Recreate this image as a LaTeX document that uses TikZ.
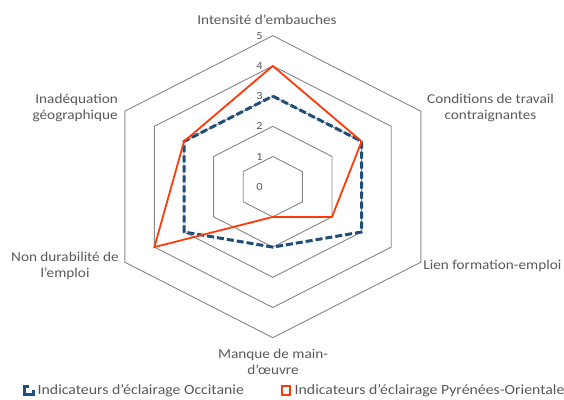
\documentclass[tikz,border=0pt]{standalone}
\usepackage{fontspec}
\setmainfont{Carlito}[FakeStretch=1.12]
\definecolor{txtgray}{HTML}{595959}
\definecolor{gridgray}{HTML}{868686}
\definecolor{occblue}{HTML}{1F4E79}
\definecolor{pyrred}{HTML}{FF3A0A}
\tikzset{
  lbl/.style={text=txtgray, font=\fontsize{13.6}{16.5}\selectfont, inner sep=0pt, align=center},
  leg/.style={text=txtgray, font=\fontsize{14.1}{16.5}\selectfont, inner sep=0pt, anchor=west},
  tick/.style={text=txtgray, font=\fontsize{11}{13}\selectfont, inner sep=0pt, anchor=east},
  grid/.style={draw=gridgray, line width=0.9pt},
  occ/.style={draw=occblue, line width=3pt, dash pattern=on 7pt off 3pt, line join=round},
  pyr/.style={draw=pyrred, line width=1.8pt, line join=miter},
}
\begin{document}
\begin{tikzpicture}[x=1pt,y=-1pt]
\useasboundingbox (0,0) rectangle (564,399);
\begin{scope}[shift={(272.8,186.7)}, x={(29.6pt,0pt)}, y={(0pt,15.1pt)}]
  \foreach \v in {1,...,5}
    \draw[grid] (0,2*\v) -- (\v,\v) -- (\v,-\v) -- (0,-2*\v) -- (-\v,-\v) -- (-\v,\v) -- cycle;
  \foreach \v in {0,...,5}
    \node[tick] (t\v) at ([xshift=-10pt]0,2*\v) {\v};
  \draw[occ] (0,6) -- (3,3) -- (3,-3) -- (0,-4) -- (-3,-3) -- (-3,3) -- cycle;
  \draw[pyr] (0,8) -- (3,3) -- (2,-2) -- (0,-2) -- (-4,-4) -- (-3,3) -- cycle;
\end{scope}
\node[lbl] (a1) at (267,20) {Intensité d'embauches};
\node[lbl] (a2) at (490.5,108) {Conditions de travail\\contraignantes};
\node[lbl, anchor=east] (a3) at (561.5,266) {Lien formation-emploi};
\node[lbl] (a4) at (273,362) {Manque de main-\\d'œuvre};
\node[lbl] (a5) at (65,266) {Non durabilité de\\l'emploi};
\node[lbl, align=right, anchor=east] (a6) at (118,108) {Inadéquation\\géographique};
% legend
\draw[draw=occblue, line width=2.6pt] (28.5,386.5) -- (24.3,386.5) -- (24.3,394.5) -- (33.3,394.5) -- (33.3,389.5);
\node[leg] (l1) at (37.5,390.5) {Indicateurs d'éclairage Occitanie};
\draw[draw=pyrred, line width=1.9pt] (281.8,386.3) rectangle (290.2,394.7);
\node[leg] (l2) at (294.5,390.5) {Indicateurs d'éclairage Pyrénées-Orientale};
\end{tikzpicture}
\end{document}
